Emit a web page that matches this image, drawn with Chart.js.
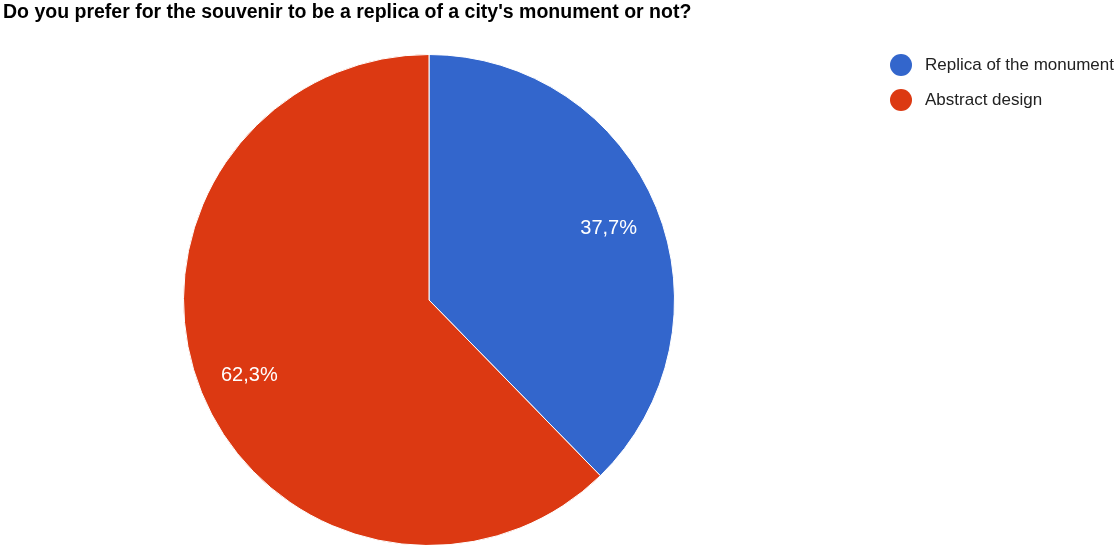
<!DOCTYPE html>
<html>
<head>
<meta charset="utf-8">
<script src="https://cdn.jsdelivr.net/npm/chart.js@4"></script>
<style>
  html, body { margin: 0; padding: 0; background: #fff; overflow: hidden; }
  #title {
    position: absolute; left: 3px; top: 0px;
    font: bold 19.5px "Liberation Sans", Arial, sans-serif; color: #000;
    line-height: 22px;
    white-space: nowrap;
  }
  canvas { display: block; }
</style>
</head>
<body>
<div id="title">Do you prefer for the souvenir to be a replica of a city's monument or not?</div>
<canvas id="chart" width="1118" height="560"></canvas>
<script>
const labels = ['Replica of the monument', 'Abstract design'];
const shares = [37.7, 62.3];
const colors = ['#3366CC', '#DC3912'];

// slice labels, drawn in white inside each slice
const sliceLabels = {
  id: 'sliceLabels',
  afterDatasetsDraw(chart) {
    const ctx = chart.ctx;
    const meta = chart.getDatasetMeta(0);
    ctx.save();
    ctx.fillStyle = '#fff';
    ctx.font = '20px "Liberation Sans", Arial, sans-serif';
    ctx.textAlign = 'center';
    ctx.textBaseline = 'middle';
    meta.data.forEach((arc, i) => {
      const mid = (arc.startAngle + arc.endAngle) / 2;
      const r = arc.outerRadius * 0.79;
      const x = arc.x + Math.cos(mid) * r;
      const y = arc.y + Math.sin(mid) * r + 2;
      ctx.fillText(shares[i].toFixed(1).replace('.', ',') + '%', x, y);
    });
    ctx.restore();
  }
};

// legend on the right with round markers
const sideLegend = {
  id: 'sideLegend',
  afterDraw(chart) {
    const ctx = chart.ctx;
    ctx.save();
    ctx.font = '17px "Liberation Sans", Arial, sans-serif';
    ctx.textBaseline = 'middle';
    labels.forEach((text, i) => {
      const y = 65 + i * 35;
      ctx.beginPath();
      ctx.arc(901, y, 11, 0, Math.PI * 2);
      ctx.fillStyle = colors[i];
      ctx.fill();
      ctx.fillStyle = '#222';
      ctx.fillText(text, 925, y);
    });
    ctx.restore();
  }
};

const chart = new Chart(document.getElementById('chart'), {
  type: 'pie',
  data: {
    labels: labels,
    datasets: [{
      data: shares,
      backgroundColor: colors,
      borderColor: '#fff',
      borderWidth: 1
    }]
  },
  options: {
    responsive: false,
    animation: false,
    layout: {
      padding: { left: 183, right: 443, top: 54, bottom: 14 }
    },
    plugins: {
      legend: { display: false },
      tooltip: { enabled: false }
    }
  },
  plugins: [sliceLabels, sideLegend]
});
</script>
</body>
</html>
